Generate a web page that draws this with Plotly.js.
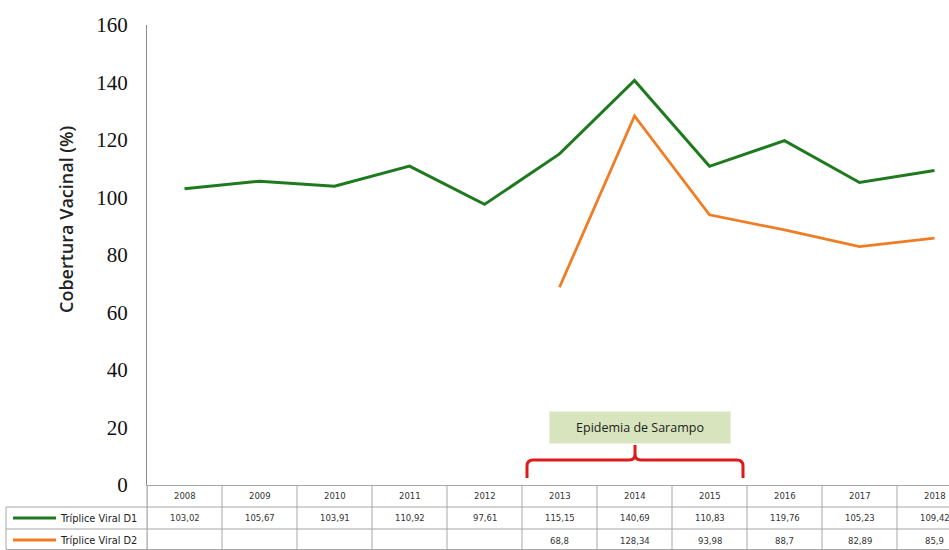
<!DOCTYPE html>
<html>
<head>
<meta charset="utf-8">
<script src="https://cdn.plot.ly/plotly-3.0.1.min.js"></script>
<style>html,body{margin:0;padding:0;background:#fff;}#chart{width:949px;height:550px;}</style>
</head>
<body>
<div id="chart"></div>
<script>
const years = ['2008','2009','2010','2011','2012','2013','2014','2015','2016','2017','2018'];
const d1 = [103.02,105.67,103.91,110.92,97.61,115.15,140.69,110.83,119.76,105.23,109.42];
const d2 = [null,null,null,null,null,68.8,128.34,93.98,88.7,82.89,85.9];
const seriesNames = ['Tríplice Viral D1','Tríplice Viral D2'];
const seriesColors = ['#1f7a1f','#f07d24'];
const yTicks = [0,20,40,60,80,100,120,140,160];
const yTitle = 'Cobertura Vacinal (%)';
const noteText = 'Epidemia de Sarampo';

const W = 949, H = 550, ML = 147, MR = 0, MT = 25, MB = 65;
const plotW = W - ML - MR, plotH = H - MT - MB;
const px = p => (p - ML) / plotW;          // pixel -> paper x
const py = p => (H - MB - p) / plotH;      // pixel -> paper y
const fmt = v => (v == null ? '' : String(v).replace('.', ','));

const gridColor = '#a6a6a6';
const tableFont = {family: 'DejaVu Sans, Verdana, sans-serif', size: 8.5, color: '#333'};

const traces = [
  {x: years, y: d1, type: 'scatter', mode: 'lines', name: seriesNames[0],
   line: {color: seriesColors[0], width: 3}},
  {x: years, y: d2, type: 'scatter', mode: 'lines', name: seriesNames[1],
   line: {color: seriesColors[1], width: 2.8}, connectgaps: false}
];

const shapes = [];
const annotations = [];

// table row boundaries (pixels)
const rowTop = 485, row1 = 507, row2 = 529, rowBot = 549.5;
const tableLeft = 6;

// vertical column lines in the table (through the category scale)
for (let i = 0; i <= years.length; i++) {
  shapes.push({type: 'line', xref: 'x', yref: 'paper', x0: i - 0.5, x1: i - 0.5,
    y0: py(rowTop), y1: py(rowBot), line: {color: gridColor, width: 1}});
}
// left edge of plot down through table
shapes.push({type: 'line', xref: 'paper', yref: 'paper', x0: 0, x1: 0,
  y0: py(rowTop), y1: py(rowBot), line: {color: gridColor, width: 1}});
// left edge of label column
shapes.push({type: 'line', xref: 'paper', yref: 'paper', x0: px(tableLeft), x1: px(tableLeft),
  y0: py(row1), y1: py(rowBot), line: {color: gridColor, width: 1}});
// horizontal row lines
[row1, row2, rowBot].forEach(r => {
  shapes.push({type: 'line', xref: 'paper', yref: 'paper', x0: px(tableLeft), x1: 1,
    y0: py(r), y1: py(r), line: {color: gridColor, width: 1}});
});

// table texts (positioned through the category axis by index)
years.forEach((yr, i) => {
  annotations.push({xref: 'x', yref: 'paper', x: i, y: py(496), text: yr, showarrow: false,
    xanchor: 'center', yanchor: 'middle', font: tableFont});
  annotations.push({xref: 'x', yref: 'paper', x: i, y: py(518), text: fmt(d1[i]), showarrow: false,
    xanchor: 'center', yanchor: 'middle', font: tableFont});
  if (d2[i] != null) {
    annotations.push({xref: 'x', yref: 'paper', x: i, y: py(540.5), text: fmt(d2[i]), showarrow: false,
      xanchor: 'center', yanchor: 'middle', font: tableFont});
  }
});

// row labels with legend keys
[[518, 0], [540, 1]].forEach(([yy, k]) => {
  shapes.push({type: 'line', xref: 'paper', yref: 'paper', x0: px(13), x1: px(56),
    y0: py(yy), y1: py(yy), line: {color: seriesColors[k], width: 3}});
  annotations.push({xref: 'paper', yref: 'paper', x: px(58), y: py(yy), text: seriesNames[k],
    showarrow: false, xanchor: 'left', yanchor: 'middle',
    font: {family: 'DejaVu Sans, Verdana, sans-serif', size: 9.8, color: '#222'}});
});

// y axis title (placed like the original, above centre)
annotations.push({xref: 'paper', yref: 'paper', x: px(66), y: py(220), text: yTitle,
  showarrow: false, textangle: -90, xanchor: 'center', yanchor: 'middle',
  font: {family: 'Open Sans, Lato, sans-serif', size: 18, color: '#222', weight: 600}});

// epidemic note box
annotations.push({xref: 'paper', yref: 'paper', x: px(640), y: py(427.5), text: noteText,
  showarrow: false, xanchor: 'center', yanchor: 'middle', width: 180, height: 31,
  bgcolor: '#d7e4bd', borderpad: 0,
  font: {family: 'Open Sans, Lato, sans-serif', size: 12.5, color: '#222'}});

// red brace
const bx0 = px(527), bx1 = px(533), bm0 = px(629), bm = px(635), bm1 = px(641), bx2 = px(737), bx3 = px(743);
const bt = py(478), bh = py(460), bc = py(466), bn = py(454), bp = py(445);
shapes.push({type: 'path', xref: 'paper', yref: 'paper',
  path: `M ${bx0},${bt} L ${bx0},${bc} Q ${bx0},${bh} ${bx1},${bh} L ${bm0},${bh} Q ${bm},${bh} ${bm},${bn} L ${bm},${bp} ` +
        `M ${bm},${bn} Q ${bm},${bh} ${bm1},${bh} L ${bx2},${bh} Q ${bx3},${bh} ${bx3},${bc} L ${bx3},${bt}`,
  line: {color: '#dd1b1b', width: 3}});

const layout = {
  width: W, height: H,
  margin: {l: ML, r: MR, t: MT, b: MB, pad: 0},
  paper_bgcolor: '#fff', plot_bgcolor: '#fff',
  showlegend: false,
  xaxis: {type: 'category', range: [-0.5, plotW / 75 - 0.5], showgrid: false, zeroline: false,
    showline: true, linecolor: gridColor, linewidth: 1, showticklabels: false, ticks: '', fixedrange: true},
  yaxis: {range: [0, 160], tickvals: yTicks, showgrid: false, zeroline: false,
    showline: true, linecolor: '#8c8c8c', linewidth: 1, ticks: '', ticklabelstandoff: 14,
    tickfont: {family: 'Liberation Serif, Times New Roman, serif', size: 21, color: '#111'}},
  shapes: shapes,
  annotations: annotations
};

Plotly.newPlot('chart', traces, layout, {displayModeBar: false, staticPlot: true});
</script>
</body>
</html>
